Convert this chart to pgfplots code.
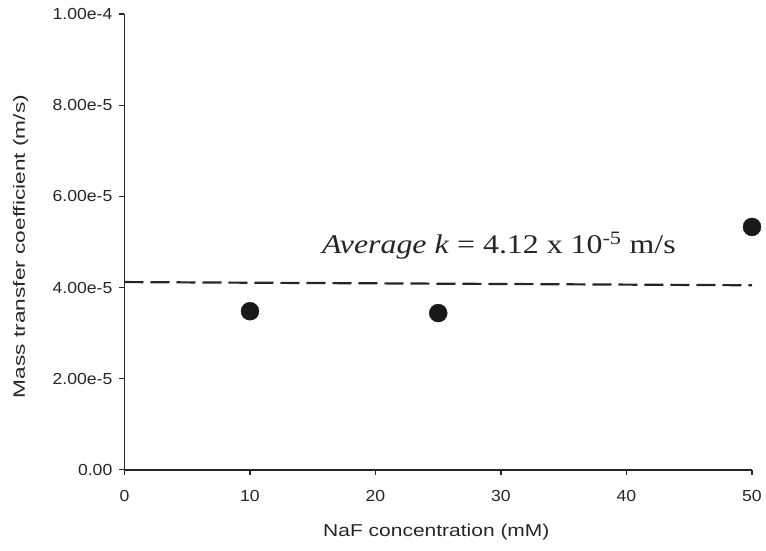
\documentclass[border=0pt]{standalone}
\usepackage{fontspec}
\setmainfont{Liberation Sans}
\newfontfamily\tickfont[FakeStretch=1.1]{Liberation Sans}
\newfontfamily\xlabfont[FakeStretch=1.22]{Liberation Sans}
\newfontfamily\ylabfont[FakeStretch=1.39]{Liberation Sans}
\newfontfamily\annfont[FakeStretch=1.18]{Liberation Serif}
\usepackage{pgfplots}
\pgfplotsset{compat=1.18}
\begin{document}
\begin{tikzpicture}
\begin{axis}[
  name=ax, at={(0,0)}, anchor=south west,
  scale only axis, width=627.5pt, height=455.9pt,
  xmin=0, xmax=50, ymin=0, ymax=1e-4,
  axis lines=left, axis line style={-, line width=1.3pt, black!85},
  xtick={0,10,20,30,40,50}, xticklabels={0,10,20,30,40,50},
  ytick={0,2e-5,4e-5,6e-5,8e-5,1e-4},
  yticklabels={0.00,2.00e-5,4.00e-5,6.00e-5,8.00e-5,1.00e-4},
  scaled y ticks=false, scaled x ticks=false,
  tick align=outside, major tick length=5pt,
  tick style={line width=1.2pt, black!85},
  ticklabel style={font=\tickfont\fontsize{16}{16}\selectfont, inner sep=0pt, text=black!85},
  yticklabel style={xshift=-7pt},
  xticklabel style={yshift=-15pt},
  clip=false,
  xlabel={NaF concentration (mM)},
  xlabel style={at={(axis description cs:0.497,-0.146)}, anchor=base, inner sep=0pt,
    font=\xlabfont\fontsize{17.2}{17.2}\selectfont, text=black!85},
  ylabel={Mass transfer coefficient (m/s)},
  ylabel style={at={(axis description cs:-0.1586,0.49)}, anchor=base, inner sep=0pt,
    font=\ylabfont\fontsize{16.3}{16.3}\selectfont, text=black!85},
]
\addplot[black!85, line width=2.2pt, dash pattern=on 19pt off 7pt] coordinates {(0,4.12e-5) (50,4.05e-5)};
\addplot[only marks, mark=*, mark size=9pt, black!90] coordinates {(10,3.48e-5) (25,3.44e-5) (50,5.33e-5)};
\node[anchor=base west, inner sep=0pt, text=black!85, font=\annfont\fontsize{27}{27}\selectfont]
  at (axis cs:15.74,4.75e-5) {\textit{Average k} = 4.12 x 10\textsuperscript{-5} m/s};
\end{axis}
\pgfresetboundingbox
\path[use as bounding box] (-124.5pt,-81.1pt) rectangle (641.5pt,469.9pt);
\end{tikzpicture}
\end{document}
